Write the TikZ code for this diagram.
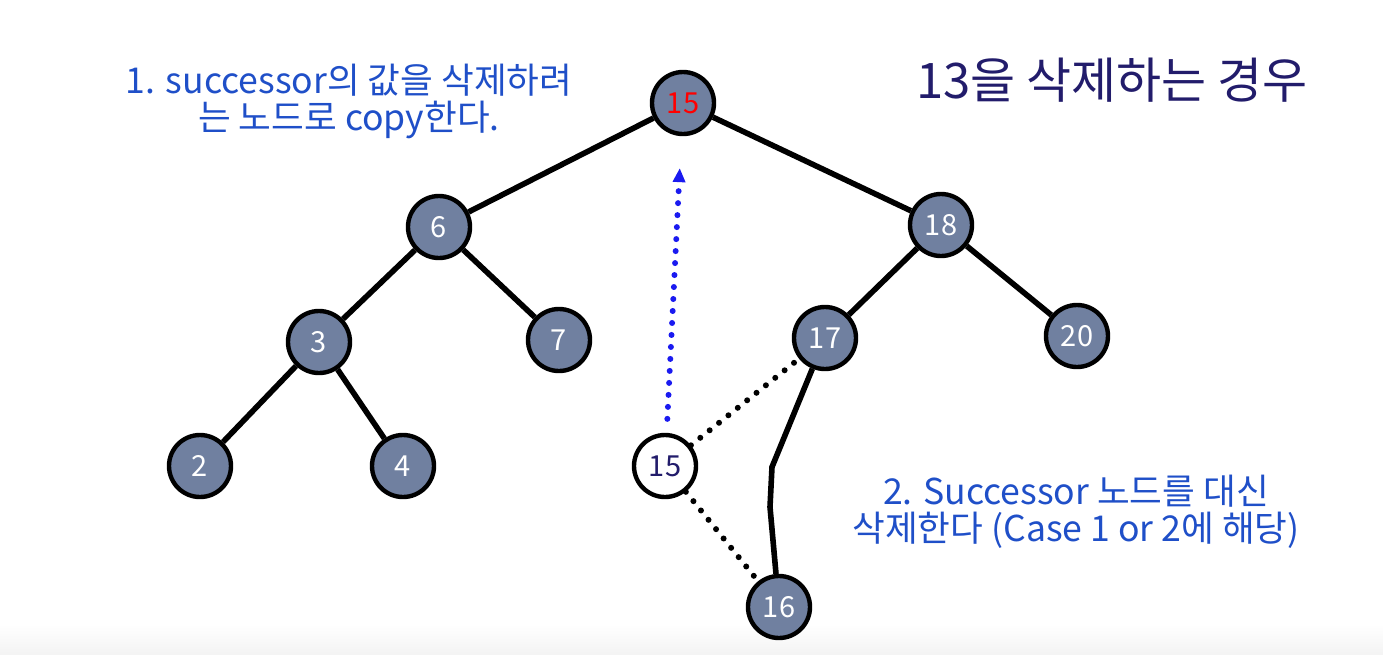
\documentclass[tikz,border=0pt]{standalone}
\usepackage{fontspec}
\setmainfont{Noto Sans CJK KR}
\usepackage{xcolor}
\usetikzlibrary{arrows.meta}

\definecolor{nodegray}{HTML}{7080A0}
\definecolor{noteblue}{HTML}{1F4FC8}
\definecolor{titlenavy}{HTML}{221C6B}
\definecolor{copyblue}{HTML}{1A1AF0}

\begin{document}
\begin{tikzpicture}[
  x=0.5pt, y=-0.5pt,
  tnode/.style={circle, draw, line width=2.2pt, fill=nodegray, minimum size=31pt, inner sep=0pt, text=white, font=\fontsize{14.5}{14.5}\selectfont},
  freed/.style={tnode, fill=white, text=titlenavy},
  edge/.style={line width=2.8pt},
  dotlink/.style={line width=3pt, line cap=round, dash pattern=on 0pt off 6pt},
  note/.style={align=center, text=noteblue, font=\fontsize{17.8}{18.5}\selectfont},
  >={Triangle[length=7pt, width=6pt]}
]
\useasboundingbox (0,0) rectangle (1383,654);
\fill[top color=white, bottom color=gray!9] (0,624) rectangle (1383,654);

% Tree after the copy
\node[tnode, text=red] (r15) at (683,103) {15};
\node[tnode] (n6) at (439,227) {6};
\node[tnode] (n18) at (941,225) {18};
\node[tnode] (n3) at (319,342) {3};
\node[tnode] (n7) at (559,340) {7};
\node[tnode] (n17) at (825,338) {17};
\node[tnode] (n20) at (1077,336) {20};
\node[tnode] (n2) at (200,466) {2};
\node[tnode] (n4) at (403,466) {4};
\node[freed] (w15) at (665,466) {15};
\node[tnode] (n16) at (779,607) {16};

% Edges
\draw[edge] (r15) -- (n6);
\draw[edge] (r15) -- (n18);
\draw[edge] (n6) -- (n3);
\draw[edge] (n6) -- (n7);
\draw[edge] (n3) -- (n2);
\draw[edge] (n3) -- (n4);
\draw[edge] (n18) -- (n17);
\draw[edge] (n18) -- (n20);
\draw[edge] (n17) -- (772,467) -- (770,507) -- (n16);

% Successor links
\draw[dotlink] (w15) -- (n17);
\draw[dotlink] (w15) -- (n16);
\draw[dotlink, copyblue, ->, shorten <=7pt, shorten >=16pt] (w15) -- (r15);

% Notes
\node[note] (step1) at (349,101) {1. successor의 값을 삭제하려\\는 노드로 copy한다.};
\node[note] (step2) at (1076,512) {2. Successor 노드를 대신\\삭제한다 (Case 1 or 2에 해당)};
\node[text=titlenavy, font=\fontsize{24.5}{24.5}\selectfont] (title) at (1112,80) {13을 삭제하는 경우};

\end{tikzpicture}
\end{document}
